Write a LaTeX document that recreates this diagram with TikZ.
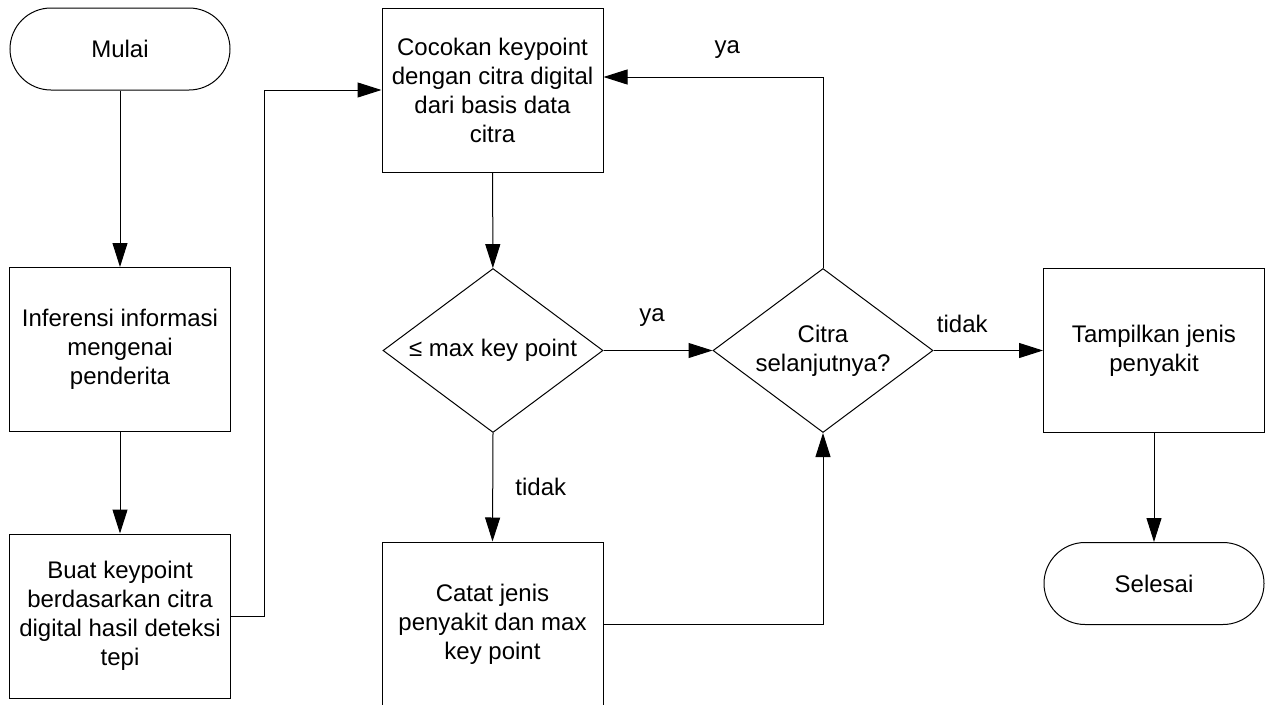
\documentclass[tikz,border=0pt]{standalone}
\usepackage{fontspec}
\setmainfont{Liberation Sans}
\usetikzlibrary{shapes.geometric,shapes.misc,arrows.meta}
\begin{document}
\begin{tikzpicture}[x=1pt,y=-1pt,
  every node/.style={font=\fontsize{24}{29}\selectfont},
  box/.style={draw,line width=1pt,minimum width=221pt,minimum height=164pt,align=center,inner sep=0pt},
  term/.style={draw,line width=1pt,rounded rectangle,minimum width=220pt,minimum height=82pt,inner sep=0pt},
  dec/.style={draw,line width=1pt,diamond,aspect=1.34,minimum width=220pt,minimum height=164pt,inner sep=0pt},
  arr/.style={line width=1pt,-{Triangle[length=24pt,width=15pt]}},
  lbl/.style={inner sep=0pt}]
\fill[white] (0,0) rectangle (1266,704);
\useasboundingbox (0,0) rectangle (1266,704);

\node[term] (mulai) at (120,49) {Mulai};
\node[box] (inf) at (120,349.5) {Inferensi informasi\\mengenai\\penderita};
\node[box] (buat) at (120,616) {Buat keypoint\\berdasarkan citra\\digital hasil deteksi\\tepi};
\node[box] (cocok) at (492.5,90) {Cocokan keypoint\\dengan citra digital\\dari basis data\\citra};
\node[dec,label={[align=center]center:≤ max key point}] (d1) at (493,350.5) {};
\node[box] (catat) at (492.5,624) {Catat jenis\\penyakit dan max\\key point};
\node[dec,label={[align=center]center:Citra\\selanjutnya?}] (d2) at (823,350.5) {};
\node[box] (tamp) at (1154,350.5) {Tampilkan jenis\\penyakit};
\node[term] (selesai) at (1154,583.5) {Selesai};

\draw[arr] (mulai) -- (inf);
\draw[arr] (inf) -- (buat);
\draw[arr] (buat.east) -- ++(33,0) |- (cocok.west);
\draw[arr] (cocok) -- (d1);
\draw[arr] (d1.east) -- node[lbl,xshift=-6pt,yshift=33pt] {ya} (d2.west);
\draw[arr] (d2.east) -- node[lbl,xshift=-26pt,yshift=27pt] {tidak} (tamp.west);
\draw[arr] (d1.south) -- node[lbl,xshift=48pt] {tidak} (catat.north);
\draw[arr] (catat.east) -| (d2.south);
\draw[arr] (d2.north) |- node[lbl,pos=0.75,xshift=14pt,yshift=27pt] {ya} ([yshift=13pt]cocok.east);
\draw[arr] (tamp) -- (selesai);
\end{tikzpicture}
\end{document}
